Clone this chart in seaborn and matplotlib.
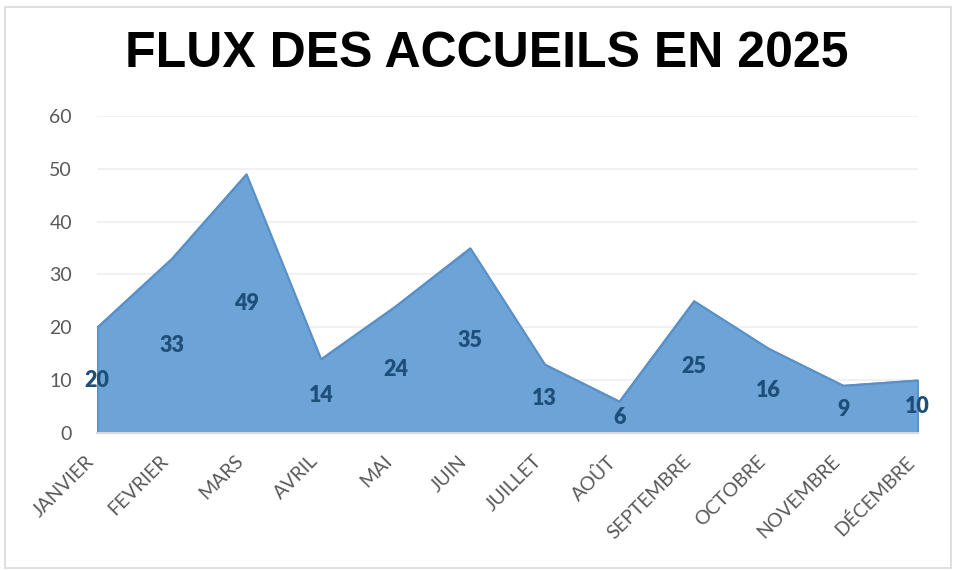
import matplotlib
matplotlib.use("Agg")
import matplotlib.pyplot as plt
import seaborn as sns
import pandas as pd
from matplotlib.patches import Rectangle

mois = ["JANVIER", "FEVRIER", "MARS", "AVRIL", "MAI", "JUIN", "JUILLET",
        "AOÛT", "SEPTEMBRE", "OCTOBRE", "NOVEMBRE", "DÉCEMBRE"]
accueils = [20, 33, 49, 14, 24, 35, 13, 6, 25, 16, 9, 10]
yticks = [0, 10, 20, 30, 40, 50, 60]

df = pd.DataFrame({"mois": mois, "accueils": accueils})
df["pos"] = range(len(df))

sns.set_theme(style="white")
plt.rcParams["font.family"] = ["Lato", "DejaVu Sans"]

fig = plt.figure(figsize=(9.56, 5.70), dpi=100)
ax = fig.add_axes([0.1015, 0.2404, 0.8585, 0.5561])

# cadre gris autour du graphique
fig.patches.append(Rectangle((5 / 956, 2 / 570), 946 / 956, 561 / 570,
                             transform=fig.transFigure, fill=False,
                             edgecolor="#D9D9D9", linewidth=1.2))

# aire
ax.fill_between(df["pos"], df["accueils"], 0, color="#6CA4D7",
                edgecolor="#5A90C8", linewidth=1.5, zorder=2)
sns.lineplot(data=df, x="pos", y="accueils", color="#5A90C8", linewidth=1.0,
             ax=ax, zorder=3)

# étiquettes de données
for p, v in zip(df["pos"], df["accueils"]):
    ax.text(p, v / 2, str(v), ha="center", va="center", fontsize=15.5,
            fontweight="heavy", color="#1F4E79", zorder=4)

ax.set_xlim(0, len(mois) - 1)
ax.set_ylim(0, 60)
ax.set_yticks(yticks)
ax.set_xticks(df["pos"])
ax.set_xticklabels(mois, rotation=45, ha="right")
ax.tick_params(axis="y", labelsize=14, colors="#595959", length=0, pad=18)
ax.tick_params(axis="x", labelsize=14, colors="#595959", length=0, pad=14)
ax.set_xlabel("")
ax.set_ylabel("")
ax.grid(axis="y", color="#EFEFEF", linewidth=1.2, zorder=0)
for s in ["top", "right", "left"]:
    ax.spines[s].set_visible(False)
ax.spines["bottom"].set_color("#D9D9D9")
ax.spines["bottom"].set_linewidth(1.5)
ax.spines["bottom"].set_zorder(5)

fig.text(0.509, 0.905, "FLUX DES ACCUEILS EN 2025", ha="center", va="center",
         fontsize=36, fontweight="bold", color="black",
         family=["Liberation Sans", "DejaVu Sans"])

fig.savefig("out.png", dpi=100)
